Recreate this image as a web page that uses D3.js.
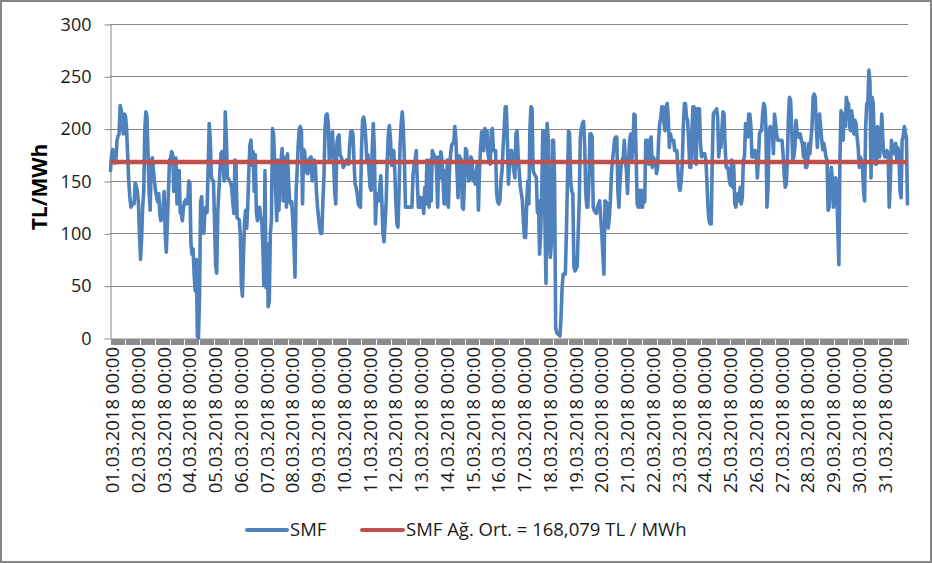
<!DOCTYPE html>
<html><head><meta charset="utf-8">
<script src="https://cdn.jsdelivr.net/npm/d3@7"></script>
<style>body{margin:0;background:#fff} svg{display:block}</style>
</head><body><svg id="c" width="932" height="563"></svg>
<script>
const dayLabels = ["01.03.2018 00:00","02.03.2018 00:00","03.03.2018 00:00","04.03.2018 00:00","05.03.2018 00:00","06.03.2018 00:00","07.03.2018 00:00","08.03.2018 00:00","09.03.2018 00:00","10.03.2018 00:00","11.03.2018 00:00","12.03.2018 00:00","13.03.2018 00:00","14.03.2018 00:00","15.03.2018 00:00","16.03.2018 00:00","17.03.2018 00:00","18.03.2018 00:00","19.03.2018 00:00","20.03.2018 00:00","21.03.2018 00:00","22.03.2018 00:00","23.03.2018 00:00","24.03.2018 00:00","25.03.2018 00:00","26.03.2018 00:00","27.03.2018 00:00","28.03.2018 00:00","29.03.2018 00:00","30.03.2018 00:00","31.03.2018 00:00"];
const yTicks = [0, 50, 100, 150, 200, 250, 300];
const averageValue = 168.079;
const seriesNames = ["SMF", "SMF Ağ. Ort. = 168,079 TL / MWh"];
const yTitle = "TL/MWh";
// hourly SMF values, one row per day (24 hours)
const smfValues = [
160,175,180,172,167,168,188,193,195,222,218,205,195,214,212,200,175,150,135,125,128,128,128,148,
145,140,130,100,75,95,125,140,200,216,212,175,140,122,170,172,160,150,140,135,130,138,118,112,
115,125,140,100,82,110,140,170,172,178,175,140,168,172,128,150,160,120,118,112,125,130,132,128,
130,150,148,90,80,85,60,45,75,2,0,40,130,135,110,100,120,125,120,160,205,190,155,150,
150,110,70,62,120,140,160,176,178,165,150,216,190,153,152,150,148,144,130,119,170,168,115,114,
113,100,50,40,80,112,122,105,128,160,185,189,165,178,140,175,120,112,118,125,115,112,90,50,
160,48,90,30,35,100,112,200,195,170,140,112,170,122,155,170,181,131,150,173,125,176,150,131,
128,130,110,90,58,138,160,185,200,202,198,128,180,178,160,158,157,171,172,173,150,160,170,165,
140,125,115,105,100,100,130,155,200,213,214,205,170,175,195,197,170,140,128,185,192,194,175,173,
170,163,165,166,170,168,166,185,197,198,195,170,147,144,138,128,126,125,180,208,211,205,190,170,
175,160,144,141,180,205,180,109,134,138,131,144,155,130,100,92,110,131,170,195,203,190,165,179,
179,160,130,109,106,140,186,205,216,200,170,125,125,125,125,125,125,125,155,165,170,179,150,125,
135,125,130,134,119,144,128,170,145,125,170,131,179,176,174,173,160,125,173,153,178,170,150,128,
160,128,170,125,160,175,184,186,187,202,190,160,134,174,172,170,125,123,150,181,179,160,150,153,
173,170,150,157,147,160,166,122,160,182,197,192,179,200,198,198,175,170,166,198,200,179,179,179,
138,130,128,131,150,160,182,200,221,221,190,147,165,179,179,170,160,153,195,198,175,160,145,138,
131,110,96,96,128,150,128,200,221,219,160,157,155,153,120,131,80,100,138,198,198,110,52,205,
192,90,77,90,189,189,150,10,5,4,3,2,20,48,61,61,61,100,150,198,195,150,140,138,
68,64,66,68,100,131,192,200,205,207,186,140,125,125,150,195,195,192,125,122,120,119,125,128,
131,115,100,80,61,131,130,128,105,115,131,157,170,179,190,192,192,140,125,150,165,170,173,189,
170,160,138,170,189,195,170,182,214,213,176,128,125,141,125,141,125,138,130,189,189,170,166,189,
192,163,173,170,170,157,163,190,205,210,221,221,205,198,221,224,210,182,195,189,189,189,179,179,
179,160,144,141,150,166,202,224,224,211,208,189,163,163,198,221,221,170,166,219,219,219,186,173,
176,176,176,170,150,125,112,109,109,170,214,216,216,219,211,173,186,182,200,216,214,182,163,163,
160,150,146,170,144,165,128,125,134,138,131,144,128,134,170,173,205,202,192,214,214,202,173,173,
179,179,176,153,170,195,198,198,215,224,221,202,125,144,198,202,200,198,176,214,205,195,189,189,
189,189,189,176,157,144,147,170,211,230,227,202,170,173,182,208,198,192,192,195,189,186,173,186,
163,163,170,186,176,190,202,230,233,230,202,182,211,214,202,190,180,186,180,173,170,122,125,150,
163,150,125,138,153,147,106,70,170,217,214,189,214,202,230,224,224,202,198,217,208,195,208,205,
192,182,163,173,170,166,141,131,202,224,224,256,245,153,230,224,189,166,166,202,189,173,189,214,
190,176,173,176,179,173,125,150,189,182,179,176,186,170,182,176,141,134,189,192,202,195,192,128
];

(function () {
const W = 932, H = 563;
const FONT = "'Open Sans', 'Liberation Sans', sans-serif";
const svg = d3.select("#c");
svg.append("rect").attr("x", 1).attr("y", 1).attr("width", W - 2).attr("height", H - 2)
  .attr("fill", "#fff").attr("stroke", "#868686").attr("stroke-width", 2);

const pLeft = 110, pRight = 908, pTop = 24, pBottom = 338;
const idx = d3.range(smfValues.length);
const x = d3.scalePoint().domain(idx).range([pLeft + 0.5, pRight - 0.5]);
const y = d3.scaleLinear().domain([0, 300]).range([pBottom, pTop]);

// gridlines
svg.append("g").selectAll("line").data(yTicks.filter(t => t > 0)).join("line")
  .attr("x1", pLeft).attr("x2", pRight)
  .attr("y1", d => Math.round(y(d)) + 0.5).attr("y2", d => Math.round(y(d)) + 0.5)
  .attr("stroke", "#868686").attr("stroke-width", 1);

// y axis
const yAxis = svg.append("g").attr("transform", `translate(${pLeft + 0.5},0.5)`)
  .call(d3.axisLeft(y).tickValues(yTicks).tickSize(6).tickPadding(13).tickSizeOuter(0));
yAxis.select(".domain").attr("stroke", "#868686");
yAxis.selectAll(".tick line").attr("stroke", "#868686");
yAxis.selectAll("text").attr("font-family", FONT).attr("font-size", 18).attr("fill", "#1a1a1a");

// x axis: ticks for every hour
const xTicks = svg.append("g").attr("transform", `translate(0,${pBottom + 0.5})`)
  .call(d3.axisBottom(x).tickValues(idx).tickSize(6).tickFormat("").tickSizeOuter(0));
xTicks.select(".domain").attr("stroke", "#868686");
xTicks.selectAll(".tick line").attr("stroke", "#8c8c8c").attr("stroke-width", 1)
  .attr("shape-rendering", "crispEdges");

// x labels every 24 hours
const labelIdx = dayLabels.map((d, i) => i * 24);
const xLab = svg.append("g").attr("transform", `translate(1.5,${pBottom})`)
  .call(d3.axisBottom(x).tickValues(labelIdx).tickSize(0).tickFormat((d) => dayLabels[d / 24]));
xLab.select(".domain").remove();
xLab.selectAll("text")
  .attr("transform", "rotate(-90)")
  .attr("x", -9).attr("y", 0).attr("dy", "0.36em")
  .attr("text-anchor", "end")
  .attr("font-family", FONT).attr("font-size", 18.5).attr("fill", "#1a1a1a");

// y title
svg.append("text").attr("transform", "translate(47,187) rotate(-90)")
  .attr("text-anchor", "middle").attr("font-family", FONT).attr("font-weight", "bold")
  .attr("font-size", 21).attr("fill", "#000").text(yTitle);

// SMF line
const line = d3.line().x((d, i) => x(i)).y(d => y(d));
svg.append("path").datum(smfValues).attr("d", line)
  .attr("fill", "none").attr("stroke", "#4F81BD").attr("stroke-width", 3.6)
  .attr("stroke-linejoin", "round").attr("stroke-linecap", "round");

// average line
svg.append("line").attr("x1", x(0)).attr("x2", x(idx.length - 1))
  .attr("y1", y(averageValue)).attr("y2", y(averageValue))
  .attr("stroke", "#C0504D").attr("stroke-width", 4.5);

// legend
const legY = 530;
const leg = [
  {name: seriesNames[0], color: "#4F81BD", x1: 247, x2: 287},
  {name: seriesNames[1], color: "#C0504D", x1: 362, x2: 403}
];
leg.forEach(l => {
  svg.append("line").attr("x1", l.x1).attr("x2", l.x2).attr("y1", legY).attr("y2", legY)
    .attr("stroke", l.color).attr("stroke-width", 4).attr("stroke-linecap", "round");
  svg.append("text").attr("x", l.x2 + 3).attr("y", legY).attr("dy", "0.35em")
    .attr("font-family", FONT).attr("font-size", 18.5).attr("fill", "#1a1a1a").text(l.name);
});
})();
</script>
</body></html>
